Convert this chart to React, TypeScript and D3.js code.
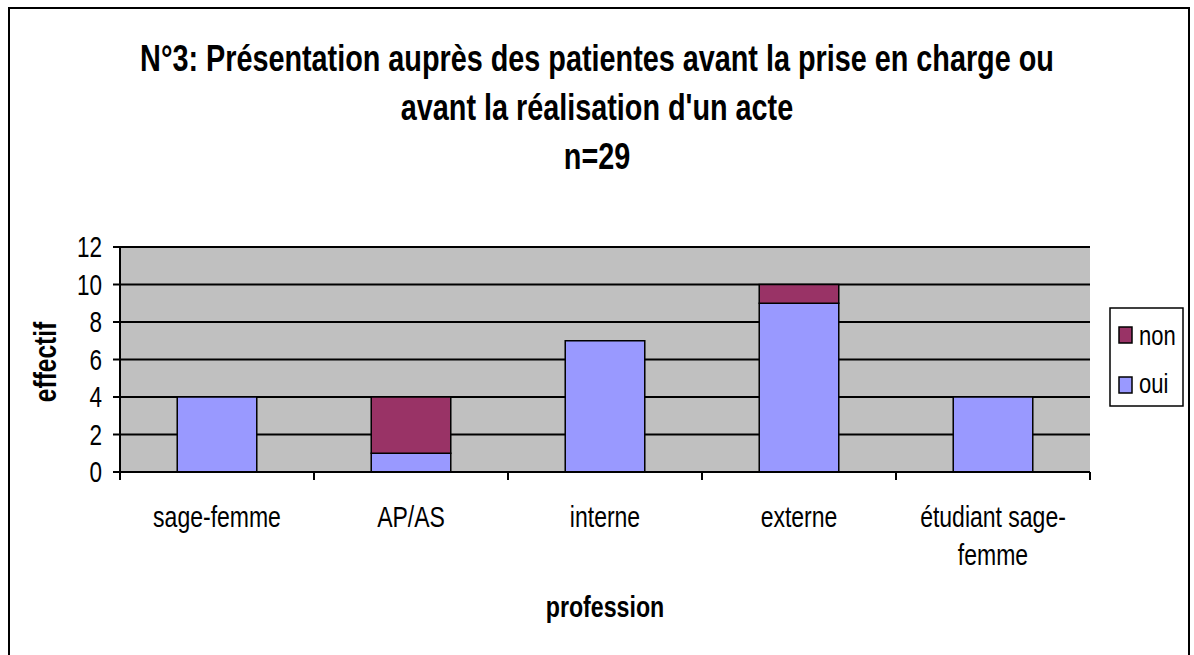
import React from "react";
import * as d3 from "d3";

const categories = ["sage-femme", "AP/AS", "interne", "externe", "étudiant sage-femme"];
const categoryLines = [["sage-femme"], ["AP/AS"], ["interne"], ["externe"], ["étudiant sage-", "femme"]];
const ouiValues = [4, 1, 7, 9, 4];
const nonValues = [0, 3, 0, 1, 0];
const yTicks = [0, 2, 4, 6, 8, 10, 12];
const titleLines = [
  "N°3: Présentation auprès des patientes avant la prise en charge ou",
  "avant la réalisation d'un acte",
  "n=29",
];
const seriesNames = ["non", "oui"];
const colors: Record<string, string> = { oui: "#9999FF", non: "#993366" };

const W = 1194, H = 655;
const FONT = "'Liberation Sans', Arial, sans-serif";
const K = 1.28; // vertical stretch of text

function T(props: { x: number; y: number; size: number; bold?: boolean; anchor?: string; rotate?: number; children: React.ReactNode }) {
  const { x, y, size, bold, anchor = "start", rotate = 0, children } = props;
  const tr = rotate ? `translate(${x},${y}) scale(${K},1) rotate(${rotate})` : `translate(${x},${y}) scale(1,${K})`;
  return (
    <text transform={tr} textAnchor={anchor} fontSize={size} fontWeight={bold ? "bold" : "normal"}>
      {children}
    </text>
  );
}

export default function App() {
  const left = 120, right = 1090, top = 247, bottom = 472;
  const x = d3.scaleBand<string>().domain(categories).range([left, right]).paddingInner(0.59).paddingOuter(0.295);
  const xOuter = d3.scaleBand<string>().domain(categories).range([left, right]);
  const y = d3.scaleLinear().domain([0, 12]).range([bottom, top]);

  const stacked = categories.map((c, i) => ({ c, oui: ouiValues[i], non: nonValues[i] }));

  return (
    <svg width={W} height={H} style={{ position: "absolute", left: 0, top: 0 }} fontFamily={FONT}>
      <rect x={0} y={0} width={W} height={H} fill="#fff" />
      <rect x={9} y={8} width={1180} height={660} fill="#fff" stroke="#000" strokeWidth={2} />
      {titleLines.map((t, i) => (
        <T key={i} x={597} y={71 + i * 49} size={28.8} bold anchor="middle">{t}</T>
      ))}
      <rect x={left} y={top} width={right - left} height={bottom - top} fill="#C0C0C0" />
      {yTicks.map((t) => (
        <g key={t}>
          {t > 0 && <line x1={left} x2={right} y1={y(t)} y2={y(t)} stroke="#000" strokeWidth={2} />}
          <line x1={left - 7} x2={left} y1={y(t)} y2={y(t)} stroke="#000" strokeWidth={2} />
          <T x={102} y={y(t) + 10} size={22.5} anchor="end">{t}</T>
        </g>
      ))}
      {stacked.map((d) => {
        const bx = x(d.c)!, bw = x.bandwidth();
        return (
          <g key={d.c}>
            <rect x={bx} y={y(d.oui)} width={bw} height={y(0) - y(d.oui)} fill={colors.oui} stroke="#000" strokeWidth={1.5} />
            {d.non > 0 && (
              <rect x={bx} y={y(d.oui + d.non)} width={bw} height={y(d.oui) - y(d.oui + d.non)} fill={colors.non} stroke="#000" strokeWidth={1.5} />
            )}
          </g>
        );
      })}
      <line x1={left} x2={left} y1={top} y2={bottom + 8} stroke="#000" strokeWidth={2} />
      <line x1={left} x2={right} y1={bottom} y2={bottom} stroke="#000" strokeWidth={2} />
      {categories.map((c) => (
        <line key={c} x1={xOuter(c)! + xOuter.bandwidth()} x2={xOuter(c)! + xOuter.bandwidth()} y1={bottom} y2={bottom + 8} stroke="#000" strokeWidth={2} />
      ))}
      {categories.map((c, i) =>
        categoryLines[i].map((l, j) => (
          <T key={c + j} x={xOuter(c)! + xOuter.bandwidth() / 2} y={527 + j * 38} size={23} anchor="middle">{l}</T>
        ))
      )}
      <T x={605} y={617} size={23.2} bold anchor="middle">profession</T>
      <T x={56} y={362} size={24.5} bold anchor="middle" rotate={-90}>effectif</T>
      <rect x={1110} y={308} width={73} height={98} fill="#fff" stroke="#000" strokeWidth={1.5} />
      {seriesNames.map((s, i) => (
        <g key={s}>
          <rect x={1119} y={327 + i * 50} width={13} height={16} fill={colors[s]} stroke="#000" strokeWidth={1.5} />
          <T x={1139} y={345 + i * 48} size={22}>{s}</T>
        </g>
      ))}
    </svg>
  );
}
